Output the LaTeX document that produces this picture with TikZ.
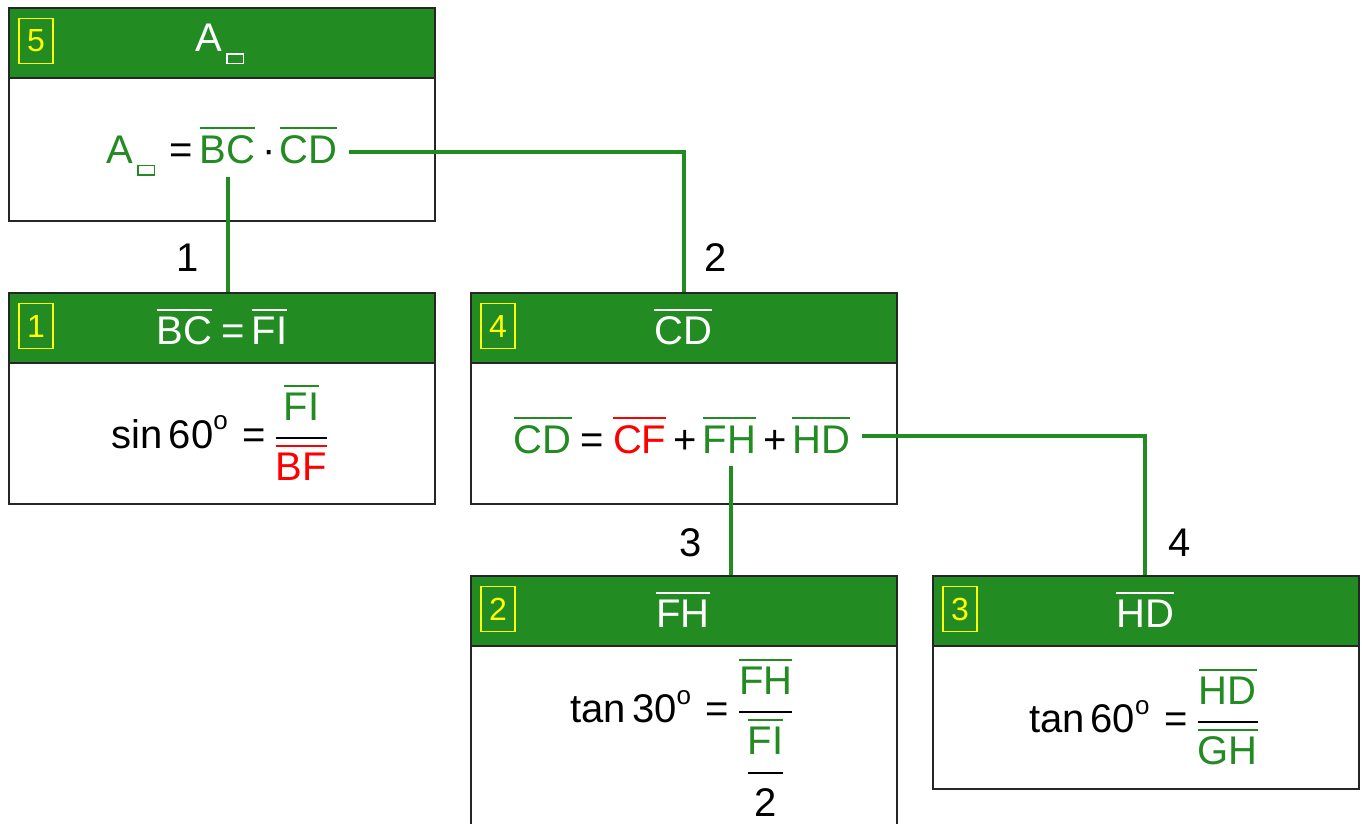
\RequirePackage{fix-cm}
\documentclass[tikz,border=0pt]{standalone}
\usepackage{amsmath}
\usepackage{fontspec}
\setmainfont{Liberation Sans}
\definecolor{fgreen}{RGB}{34,139,34}
\definecolor{fred}{RGB}{255,0,0}
\definecolor{fyellow}{RGB}{255,255,0}
\newcommand\ob[1]{\vbox{\hrule height 2pt\kern 6pt\hbox{#1}}}
\newcommand\og[1]{{\color{fgreen}\ob{#1}}}
\newcommand\orr[1]{{\color{fred}\ob{#1}}}
\newcommand\sqb{\raisebox{-11pt}{\setlength\fboxsep{0pt}\setlength\fboxrule{1.5pt}\fbox{\rule{0pt}{8pt}\hspace{15pt}}}}
\newcommand\Asq{\mbox{A\hspace{4pt}\sqb}}
\newcommand\dg{^{\mbox{\fontsize{26}{26}\selectfont o}}}
\newcommand\EQ[2]{\mbox{\hspace{#1}=\hspace{#2}}}
\newcommand\PL{\mbox{\hspace{7pt}+\hspace{6pt}}}
\begin{document}
\begin{tikzpicture}[x=1pt,y=-1pt,
  hdr/.style={draw=black!85, line width=2pt, fill=fgreen, minimum width=426pt, minimum height=70pt, inner sep=0pt, anchor=north west},
  bdy/.style={draw=black!85, line width=2pt, fill=white, minimum width=426pt, inner sep=0pt, anchor=north west},
  ttl/.style={text=white, font=\fontsize{40}{48}\selectfont, inner sep=0pt},
  frm/.style={font=\fontsize{40}{48}\selectfont, inner sep=0pt, anchor=base},
  num/.style={draw=fyellow, line width=1.5pt, text=fyellow, font=\fontsize{32}{36}\selectfont, minimum width=34pt, minimum height=45pt, inner sep=0pt},
  lbl/.style={font=\fontsize{40}{48}\selectfont, inner sep=0pt},
  cn/.style={draw=fgreen, line width=4pt}]
\path[use as bounding box] (0,0) rectangle (1362,823);
\clip (0,0) rectangle (1362,823);
% box 5
\node[hdr] (h5) at (8,7) {};
\node[bdy, minimum height=143pt] (b5) at (8,77) {};
\node[num] (n5) at (36,41) {5};
\node[ttl] (t5) at (220,44) {\Asq};
\node[frm] (f5) at (222,163) {{\color{fgreen}\Asq}\EQ{14pt}{7pt}\og{BC}\hspace{7pt}\char"00B7\hspace{4pt}\og{CD}};
% box 1
\node[hdr] (h1) at (8,292) {};
\node[bdy, minimum height=141pt] (b1) at (8,362) {};
\node[num] (n1) at (36,326) {1};
\node[ttl] (t1) at (222,327) {\ob{BC}\EQ{9pt}{7pt}\ob{FI}};
\node[frm] (f1) at (220,448) {$\displaystyle \mbox{sin\hspace{6pt}60}\dg\EQ{14pt}{9pt}{\og{FI}\above 2pt\orr{BF}}$};
% box 4
\node[hdr] (h4) at (470,292) {};
\node[bdy, minimum height=141pt] (b4) at (470,362) {};
\node[num] (n4) at (498,326) {4};
\node[ttl] (t4) at (683,327) {\ob{CD}};
\node[frm] (f4) at (682,453) {\og{CD}\EQ{9pt}{9pt}\orr{CF}\PL\og{FH}\PL\og{HD}};
% box 2
\node[hdr] (h2) at (470,575) {};
\node[bdy, minimum height=220pt] (b2) at (470,645) {};
\node[num] (n2) at (498,609) {2};
\node[ttl] (t2) at (683,610) {\ob{FH}};
\node[frm] (f2) at (682,722) {$\displaystyle \mbox{tan\hspace{6pt}30}\dg\EQ{14pt}{9pt}{\og{FH}\above 2pt{\displaystyle{\og{FI}\rule[-15pt]{0pt}{15pt}}\above 2pt\mbox{\rule{0pt}{41pt}2}}}$};
% box 3
\node[hdr] (h3) at (932,575) {};
\node[bdy, minimum height=143pt] (b3) at (932,645) {};
\node[num] (n3) at (960,609) {3};
\node[ttl] (t3) at (1145,610) {\ob{HD}};
\node[frm] (f3) at (1144,732) {$\displaystyle \mbox{tan\hspace{6pt}60}\dg\EQ{14pt}{9pt}{\og{HD}\above 2pt\og{GH}}$};
% connector anchors
\coordinate (bc) at (228,177);
\coordinate (cd) at (349,152);
\coordinate (fh) at (731,466);
\coordinate (hd) at (862,436);
\coordinate (k2) at (684,152);
\coordinate (k4) at (1145,436);
\draw[cn] (bc) -- (bc |- h1.north);
\draw[cn] (cd) -- (k2) -- (k2 |- h4.north);
\draw[cn] (fh) -- (fh |- h2.north);
\draw[cn] (hd) -- (k4) -- (k4 |- h3.north);
% labels
\node[lbl] (l1) at (188,258) {1};
\node[lbl] (l2) at (716,258) {2};
\node[lbl] (l3) at (691,543) {3};
\node[lbl] (l4) at (1180,543) {4};
\end{tikzpicture}
\end{document}
